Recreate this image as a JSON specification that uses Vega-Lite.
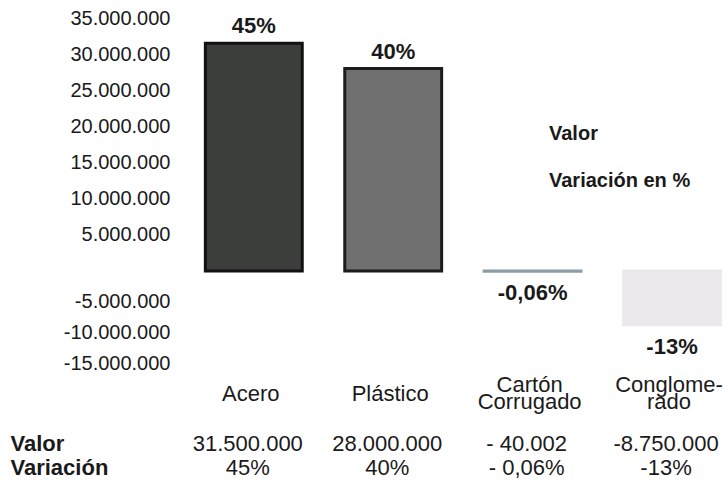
{
  "$schema": "https://vega.github.io/schema/vega-lite/v6.json",
  "background": "white",
  "padding": {"left": 10, "top": 8, "right": 0, "bottom": 0},
  "autosize": {"type": "pad"},
  "config": {
    "locale": {"number": {"decimal": ",", "thousands": ".", "grouping": [3], "currency": ["", ""], "minus": "-"}},
    "view": {"stroke": null},
    "font": "Liberation Sans",
    "axis": {"labelFont": "Liberation Sans", "labelColor": "#1a1a1a", "grid": false, "ticks": false, "domain": false, "labelOverlap": false},
    "legend": {"labelFont": "Liberation Sans"}
  },
  "datasets": {
    "materiales": [
      {"categoria": "Acero", "valor": 31500000, "variacion": 45, "etiqueta": "45%", "Valor": "31.500.000", "Variación": "45%"},
      {"categoria": "Plástico", "valor": 28000000, "variacion": 40, "etiqueta": "40%", "Valor": "28.000.000", "Variación": "40%"},
      {"categoria": "Cartón Corrugado", "valor": -40002, "variacion": -0.06, "etiqueta": "-0,06%", "Valor": "- 40.002", "Variación": "- 0,06%"},
      {"categoria": "Conglomerado", "valor": -8750000, "variacion": -13, "etiqueta": "-13%", "Valor": "-8.750.000", "Variación": "-13%"}
    ]
  },
  "bounds": "flush",
  "spacing": 69,
  "resolve": {"legend": {"opacity": "independent"}},
  "vconcat": [
    {
      "width": 543,
      "height": 345,
      "data": {"name": "materiales"},
      "encoding": {
        "x": {
          "field": "categoria", "type": "nominal", "sort": null, "title": null,
          "scale": {"type": "band", "paddingInner": 0.305, "paddingOuter": 0.1, "align": 0.73},
          "axis": {
            "orient": "bottom", "labelAngle": 0, "labelBaseline": "middle", "labelOverlap": false,
            "labelPadding": {"condition": {"test": "datum.value == 'Cartón Corrugado' || datum.value == 'Conglomerado'", "value": 21}, "value": 30},
            "labelFontSize": 22, "labelLineHeight": 17, "labelOffset": -3,
            "labelExpr": "datum.value == 'Cartón Corrugado' ? ['Cartón', 'Corrugado'] : datum.value == 'Conglomerado' ? ['Conglome-', 'rado'] : datum.label"
          }
        }
      },
      "layer": [
        {
          "mark": {"type": "bar", "strokeWidth": 3},
          "encoding": {
            "y": {
              "field": "valor", "type": "quantitative", "title": null,
              "scale": {"domain": [-15000000, 0, 35000000], "range": [345, 253, 0], "nice": false, "zero": false},
              "axis": {
                "values": [35000000, 30000000, 25000000, 20000000, 15000000, 10000000, 5000000, -5000000, -10000000, -15000000],
                "tickCount": 30,
                "format": ",d", "labelFontSize": 20, "labelPadding": 15, "labelOverlap": false, "labelFlush": false
              }
            },
            "fill": {
              "field": "categoria", "type": "nominal", "legend": null,
              "scale": {"domain": ["Acero", "Plástico", "Cartón Corrugado", "Conglomerado"], "range": ["#3c3e3c", "#6e6f6e", "#8e9ca6", "#ebe9ed"]}
            },
            "stroke": {
              "field": "categoria", "type": "nominal", "legend": null,
              "scale": {"domain": ["Acero", "Plástico", "Cartón Corrugado", "Conglomerado"], "range": ["#111111", "#1c1c1c", "#8e9ca6", "#ebe9ed"]}
            },
            "opacity": {
              "datum": "Valor", "type": "nominal",
              "scale": {"domain": ["Valor", "Variación en %"], "range": [1, 1]},
              "legend": {
                "orient": "none", "legendX": 344, "legendY": 106, "title": null, "padding": 0,
                "symbolOpacity": 0, "symbolSize": 0, "symbolStrokeWidth": 0,
                "symbolFillColor": "transparent", "symbolStrokeColor": "transparent", "labelOffset": 0,
                "labelFontSize": 20, "labelFontWeight": "bold", "labelColor": "#1a1a1a", "rowPadding": 27
              }
            }
          }
        },
        {
          "mark": {"type": "rule", "color": "#111111", "strokeWidth": 3},
          "encoding": {"y": {"datum": 0}}
        },
        {
          "transform": [{"filter": "datum.valor >= 0"}],
          "mark": {"type": "text", "dy": -17, "baseline": "middle", "fontSize": 22, "fontWeight": "bold", "color": "#1a1a1a"},
          "encoding": {
            "y": {"field": "valor", "type": "quantitative"},
            "text": {"field": "etiqueta"},
            "opacity": {"datum": "Variación en %", "type": "nominal"}
          }
        },
        {
          "transform": [{"filter": "datum.valor < 0"}],
          "mark": {"type": "text", "dy": 22, "baseline": "middle", "fontSize": 22, "fontWeight": "bold", "color": "#1a1a1a"},
          "encoding": {
            "y": {"field": "valor", "type": "quantitative"},
            "text": {"field": "etiqueta"},
            "opacity": {"datum": "Variación en %", "type": "nominal"}
          }
        }
      ]
    },
    {
      "width": 543,
      "height": 48,
      "data": {"name": "materiales"},
      "transform": [{"fold": ["Valor", "Variación"], "as": ["fila", "texto"]}],
      "mark": {"type": "text", "fontSize": 22, "dx": -6, "baseline": "middle", "color": "#1a1a1a"},
      "encoding": {
        "x": {
          "field": "categoria", "type": "nominal", "sort": null, "title": null,
          "scale": {"type": "band", "paddingInner": 0.305, "paddingOuter": 0.1, "align": 0.73},
          "axis": null
        },
        "y": {
          "field": "fila", "type": "nominal", "sort": ["Valor", "Variación"], "title": null,
          "scale": {"type": "band", "paddingInner": 0, "paddingOuter": 0},
          "axis": {"labelAlign": "left", "labelPadding": 175, "labelFontWeight": "bold", "labelFontSize": 22, "labelBaseline": "middle"}
        },
        "text": {"field": "texto"}
      }
    }
  ]
}
